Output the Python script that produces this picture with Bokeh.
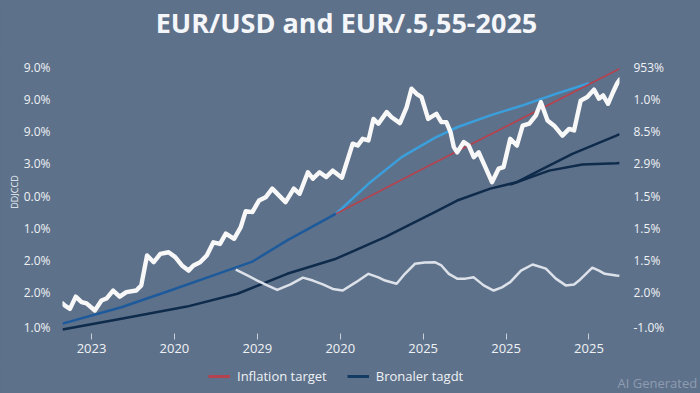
from bokeh.plotting import figure
from bokeh.models import Range1d, LinearAxis, FixedTicker, Legend, LegendItem, Label
from bokeh.layouts import column
from bokeh.embed import file_html
from bokeh.resources import INLINE

# ---------------- data ----------------
title_text = "EUR/USD and EUR/.5,55-2025"
x_ticks = [0, 1, 2, 3, 4, 5, 6]
x_tick_labels = ["2023", "2020", "2029", "2020", "2025", "2025", "2025"]
y_ticks = [-0.1, 1, 2, 3, 4, 5, 6, 7, 8]
left_labels = ["1.0%", "2.0%", "2.0%", "1.0%", "0.0%", "3.0%", "9.0%", "9.0%", "9.0%"]
right_labels = ["-1.0%", "2.0%", "1.5%", "1.5%", "1.5%", "2.9%", "8.5%", "1.0%", "953%"]
left_axis_title = "DDJCCD"
legend_labels = ["Inflation target", "Bronaler tagdt"]
watermark_text = "AI Generated"

eurusd_t = [-0.35, -0.32, -0.26, -0.19, -0.12, -0.06, 0.04, 0.12, 0.18, 0.26, 0.34, 0.42,
            0.54, 0.60, 0.67, 0.75, 0.83, 0.93, 1.01, 1.09, 1.17, 1.23, 1.31, 1.39,
            1.47, 1.55, 1.62, 1.72, 1.80, 1.86, 1.94, 2.02, 2.10, 2.18, 2.26, 2.34,
            2.44, 2.51, 2.61, 2.67, 2.75, 2.83, 2.91, 3.02, 3.15, 3.21, 3.27, 3.34,
            3.40, 3.46, 3.56, 3.62, 3.72, 3.80, 3.86, 3.92, 3.98, 4.06, 4.16, 4.22,
            4.28, 4.33, 4.37, 4.41, 4.49, 4.55, 4.61, 4.67, 4.75, 4.83, 4.91, 4.97,
            5.05, 5.13, 5.20, 5.28, 5.36, 5.42, 5.50, 5.58, 5.68, 5.76, 5.82, 5.90,
            5.98, 6.06, 6.12, 6.17, 6.23, 6.29, 6.34, 6.37]
eurusd_v = [0.66, 0.59, 0.49, 0.87, 0.70, 0.66, 0.44, 0.75, 0.81, 1.06, 0.87, 1.01,
            1.06, 1.22, 2.15, 1.94, 2.20, 2.25, 2.10, 1.84, 1.68, 1.84, 1.94, 2.15,
            2.56, 2.51, 2.83, 2.67, 3.03, 3.53, 3.50, 3.86, 3.96, 4.23, 4.02, 3.81,
            4.23, 4.07, 4.74, 4.54, 4.74, 4.59, 4.79, 4.57, 5.63, 5.57, 5.78, 5.73,
            6.40, 6.25, 6.61, 6.45, 6.27, 6.76, 7.34, 7.18, 7.08, 6.40, 6.56, 6.30,
            6.30, 5.99, 5.52, 5.36, 5.68, 5.57, 5.21, 5.36, 4.90, 4.43, 4.85, 4.90,
            5.78, 5.57, 6.19, 6.25, 6.51, 6.92, 6.35, 6.19, 5.88, 6.09, 6.04, 6.97,
            7.08, 7.31, 7.03, 7.13, 6.87, 7.23, 7.51, 7.62]

hist_t = [-0.35, 0.36, 0.95, 1.47, 1.94, 2.36, 2.95]
hist_v = [0.03, 0.54, 1.06, 1.53, 1.96, 2.62, 3.45]

fcst_t = [2.95, 3.34, 3.74, 4.14, 4.41, 4.81, 5.20, 5.60, 6.00]
fcst_v = [3.45, 4.38, 5.21, 5.81, 6.14, 6.51, 6.82, 7.18, 7.51]

infl_t = [2.95, 4.02, 6.31, 6.37]
infl_v = [3.45, 4.88, 7.88, 7.96]

navy_t = [-0.35, 0.36, 1.15, 1.76, 2.36, 2.95, 3.54, 4.14, 4.41, 4.81, 5.13, 5.40, 5.80, 6.33, 6.37]
navy_v = [-0.15, 0.18, 0.56, 0.96, 1.58, 2.05, 2.72, 3.50, 3.86, 4.23, 4.43, 4.79, 5.31, 5.88, 5.93]

branch_t = [5.05, 5.52, 5.92, 6.33, 6.37]
branch_v = [4.36, 4.79, 4.98, 5.02, 5.03]

wave_t = [1.74, 1.88, 2.00, 2.12, 2.24, 2.40, 2.55, 2.67, 2.79, 2.91,
          3.03, 3.19, 3.34, 3.46, 3.54, 3.68, 3.78, 3.90, 4.02, 4.14,
          4.22, 4.31, 4.41, 4.51, 4.61, 4.73, 4.85, 4.95, 5.05, 5.18,
          5.32, 5.48, 5.60, 5.72, 5.82, 5.88, 6.04, 6.12, 6.19, 6.33, 6.37]
wave_v = [1.71, 1.53, 1.37, 1.22, 1.08, 1.25, 1.46, 1.37, 1.25, 1.11,
          1.06, 1.32, 1.58, 1.47, 1.37, 1.27, 1.58, 1.89, 1.93, 1.94,
          1.84, 1.58, 1.43, 1.43, 1.47, 1.22, 1.06, 1.16, 1.32, 1.68,
          1.87, 1.74, 1.43, 1.22, 1.25, 1.37, 1.77, 1.68, 1.58, 1.53, 1.52]

# ---------------- style ----------------
BG = "#5e718a"
TXT = "#eef1f5"
FONT = "Open Sans"
RED = "#b5424f"
NAVY = "#0f2b4c"


def strip(height):
    f = figure(width=700, height=height, output_backend="svg", toolbar_location=None,
               x_axis_type=None, y_axis_type=None, title=None,
               x_range=Range1d(0, 1), y_range=Range1d(0, 1),
               min_border_left=62, min_border_right=72, min_border_top=0, min_border_bottom=0,
               background_fill_color=BG, border_fill_color=BG, outline_line_color=None)
    f.grid.visible = False
    return f


# ---- title strip ----
tf = strip(50)
tf.add_layout(Label(x=284, y=28, x_units="screen", y_units="screen", text=title_text,
                    text_align="center", text_baseline="middle", text_color="#f4f6f9",
                    text_font=FONT, text_font_size="27px", text_font_style="bold"))

# ---- main chart ----
p = figure(width=700, height=312, output_backend="svg", toolbar_location=None, title=None,
           x_range=Range1d(-0.35, 6.368), y_range=Range1d(-0.277, 8.528),
           min_border_left=62, min_border_right=72, min_border_top=0, min_border_bottom=29,
           background_fill_color=BG, border_fill_color=BG, outline_line_color=None)
p.grid.visible = False

xa = p.xaxis[0]
xa.ticker = FixedTicker(ticks=x_ticks)
xa.major_label_overrides = {t: l for t, l in zip(x_ticks, x_tick_labels)}
xa.axis_line_color = None
xa.major_tick_line_color = "#c9d0da"
xa.major_tick_out = 6
xa.major_tick_in = 0
xa.minor_tick_line_color = None
xa.major_label_text_color = TXT
xa.major_label_text_font = FONT
xa.major_label_text_font_size = "13px"
xa.major_label_standoff = 4

ya = p.yaxis[0]
ya.ticker = FixedTicker(ticks=y_ticks)
ya.major_label_overrides = {t: l for t, l in zip(y_ticks, left_labels)}
ya.axis_line_color = None
ya.major_tick_line_color = None
ya.minor_tick_line_color = None
ya.major_label_text_color = TXT
ya.major_label_text_font = FONT
ya.major_label_text_font_size = "12px"
ya.major_label_standoff = 6
ya.axis_label = left_axis_title
ya.axis_label_text_font_size = "9px"
ya.axis_label_text_color = TXT
ya.axis_label_text_font = FONT
ya.axis_label_text_font_style = "normal"
ya.axis_label_standoff = 0

p.extra_y_ranges = {"right": Range1d(-0.277, 8.528)}
ra = LinearAxis(y_range_name="right", ticker=FixedTicker(ticks=y_ticks))
ra.major_label_overrides = {t: l for t, l in zip(y_ticks, right_labels)}
ra.axis_line_color = None
ra.major_tick_line_color = None
ra.minor_tick_line_color = None
ra.major_label_text_color = TXT
ra.major_label_text_font = FONT
ra.major_label_text_font_size = "12px"
ra.major_label_standoff = 8
p.add_layout(ra, "right")

p.line(navy_t, navy_v, line_color=NAVY, line_width=2.5, line_join="round")
p.line(branch_t, branch_v, line_color=NAVY, line_width=2.5, line_join="round")
p.line(hist_t, hist_v, line_color="#1d5a9b", line_width=2.5, line_join="round")
p.line(fcst_t, fcst_v, line_color="#3b9fdc", line_width=2.5, line_join="round")
p.line(infl_t, infl_v, line_color=RED, line_width=1.6)
p.line(wave_t, wave_v, line_color="#dde2ea", line_width=2.5, line_join="round")
p.line(eurusd_t, eurusd_v, line_color="#f8f8f8", line_width=4.4, line_join="round", line_cap="round")

# ---- legend strip ----
lf = strip(31)
lf.y_range = Range1d(0, 31)
# the swatch renderers reuse the series, drawn on a range that keeps them out of view
lf.extra_x_ranges = {"off": Range1d(100, 101)}
leg_red = lf.line(infl_t, infl_v, line_color=RED, line_width=3, x_range_name="off")
leg_navy = lf.line(navy_t, navy_v, line_color="#123a63", line_width=3, x_range_name="off")
legend = Legend(items=[LegendItem(label=legend_labels[0], renderers=[leg_red]),
                       LegendItem(label=legend_labels[1], renderers=[leg_navy])],
                location=(146, 8), orientation="horizontal",
                background_fill_alpha=0, border_line_color=None,
                label_text_color=TXT, label_text_font=FONT, label_text_font_size="13px",
                glyph_width=22, glyph_height=16, label_height=16, label_standoff=7,
                spacing=20, padding=0, margin=0)
lf.add_layout(legend, "center")

wm_axis = LinearAxis(ticker=FixedTicker(ticks=[11]), major_label_overrides={11: watermark_text})
wm_axis.axis_line_color = None
wm_axis.major_tick_line_color = None
wm_axis.minor_tick_line_color = None
wm_axis.major_label_standoff = -8
wm_axis.major_label_text_color = "#8e9cb1"
wm_axis.major_label_text_font = FONT
wm_axis.major_label_text_font_size = "13px"
lf.add_layout(wm_axis, "right")

page = column(tf, p, lf, spacing=0)

html = file_html(page, INLINE)
html = html.replace("</head>", "<style>html,body{background:%s;}</style></head>" % BG, 1)
open("out.html", "w").write(html)
